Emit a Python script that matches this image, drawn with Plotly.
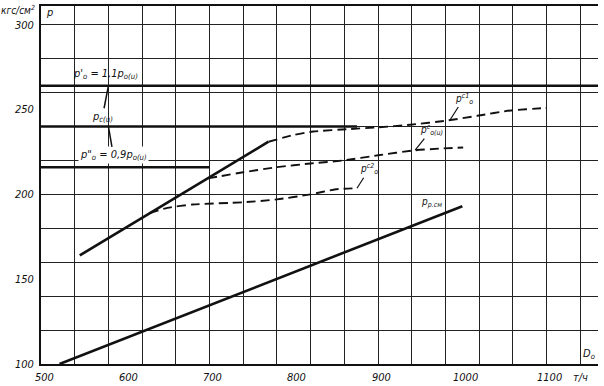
import plotly.graph_objects as go

# ---- data ----
x_tick_vals = [500, 600, 700, 800, 900, 1000, 1100]
x_tick_text = ["500", "600", "700", "800", "900", "1000", "1100"]
y_tick_vals = [100, 150, 200, 250, 300]
y_tick_text = ["100", "150", "200", "250", "300"]

# horizontal reference levels
p0_prime_x = [500, 1161]
p0_prime_y = [264, 264]
pcu_x = [500, 875]
pcu_y = [240, 240]
p0_dprime_x = [500, 700]
p0_dprime_y = [216, 216]

# solid rising curve
pc_x = [546, 620, 700, 770]
pc_y = [164, 186, 210, 231]

# dashed branches
pc1_x = [770, 800, 823, 867, 900, 938, 982, 1018, 1057, 1096, 1100]
pc1_y = [231, 235, 237, 238.5, 239.5, 241, 243.5, 246.3, 249.4, 250.8, 250.9]

pcu_branch_x = [698, 740, 780, 820, 859, 900, 943, 975, 1001]
pcu_branch_y = [209.4, 213, 216, 218.2, 220, 223, 225.9, 227, 227.6]

pc2_x = [629, 650, 680, 740, 780, 820, 850, 875]
pc2_y = [189, 192, 194, 195.3, 197, 200, 203, 203.6]

# p_p.cm line
ppcm_x = [522, 1000]
ppcm_y = [100, 193]

FONT = "DejaVu Sans Condensed, Liberation Sans Narrow, DejaVu Sans, sans-serif"
INK = "#111111"

fig = go.Figure()

def solid(x, y, w=2.6):
    fig.add_trace(go.Scatter(x=x, y=y, mode="lines",
                             line=dict(color=INK, width=w),
                             showlegend=False, hoverinfo="skip"))

def dashed(x, y, w=1.9):
    fig.add_trace(go.Scatter(x=x, y=y, mode="lines",
                             line=dict(color=INK, width=w, dash="9px,5px", shape="spline", smoothing=0.6),
                             showlegend=False, hoverinfo="skip"))

solid(p0_prime_x, p0_prime_y)
solid(pcu_x, pcu_y)
solid(p0_dprime_x, p0_dprime_y)
solid(pc_x, pc_y)
solid(ppcm_x, ppcm_y)
dashed(pc1_x, pc1_y)
dashed(pcu_branch_x, pcu_branch_y)
dashed(pc2_x, pc2_y)

# dummy trace for grid overlay axes
fig.add_trace(go.Scatter(x=[None], y=[None], xaxis="x2", yaxis="y2",
                         showlegend=False, hoverinfo="skip"))

XR = [500, 1161]
YR = [100, 311]

fig.update_layout(
    width=604, height=386,
    margin=dict(l=41, r=6, t=6, b=22),
    paper_bgcolor="white", plot_bgcolor="white",
    font=dict(family=FONT, color=INK, size=11),
    xaxis=dict(range=XR, tickvals=x_tick_vals, showticklabels=False,
               showgrid=False, zeroline=False, showline=True, linecolor=INK,
               linewidth=2, ticks=""),
    yaxis=dict(range=YR, tickvals=y_tick_vals, ticktext=y_tick_text,
               showgrid=False, zeroline=False, showline=True, linecolor=INK,
               linewidth=2, ticks="", ticklabelstandoff=3,
               tickfont=dict(family=FONT, size=11, style="italic")),
    xaxis2=dict(range=XR, overlaying="x", side="top", tick0=500, dtick=40,
                showgrid=True, gridcolor="#222222", gridwidth=1.1,
                showticklabels=False, ticks="", zeroline=False,
                showline=True, linecolor=INK, linewidth=1.5),
    yaxis2=dict(range=YR, overlaying="y", side="right", tick0=100, dtick=20,
                showgrid=True, gridcolor="#222222", gridwidth=1.1,
                showticklabels=False, ticks="", zeroline=False, showline=False),
)

W, H = 604 - 41 - 6, 386 - 6 - 22

def px_to_paper(px, py):
    return (px - 41) / W, (364 - py) / H

# x tick labels
_, ly = px_to_paper(0, 377)
for v, t in zip(x_tick_vals, x_tick_text):
    fig.add_annotation(text=t, x=v, y=ly, xref="x", yref="paper", showarrow=False,
                       xanchor="center", yanchor="middle", xshift=3,
                       font=dict(family=FONT, size=11, color=INK, style="italic"))

def label(text, x, y, size=11, **kw):
    fig.add_annotation(text=text, x=x, y=y, xref="x", yref="y",
                       showarrow=False, font=dict(family=FONT, size=size, color=INK, style="italic"),
                       **kw)

# level labels
label("p'<sub>o</sub> = 1,1p<sub>o(u)</sub>", 576, 271)
fig.add_annotation(text="p<sub>c(u)</sub>", x=580, y=264, xref="x", yref="y",
                   showarrow=True, arrowhead=0, arrowwidth=1.5, arrowcolor=INK,
                   ax=-6, ay=31, font=dict(family=FONT, size=11, color=INK, style="italic"))
fig.add_annotation(text="p\"<sub>o</sub> = 0,9p<sub>o(u)</sub>", x=580, y=240, xref="x", yref="y",
                   showarrow=True, arrowhead=0, arrowwidth=1.5, arrowcolor=INK,
                   ax=5, ay=29, bgcolor="white",
                   font=dict(family=FONT, size=11, color=INK, style="italic"))

def leader(text, x, y, ax, ay):
    fig.add_annotation(text=text, x=x, y=y, xref="x", yref="y",
                       showarrow=True, arrowhead=0, arrowwidth=1.2, arrowcolor=INK,
                       ax=ax, ay=ay, font=dict(family=FONT, size=10, color=INK, style="italic"))

leader("p<sup>c1</sup><sub>o</sub>", 985, 243.5, 14, -22)
leader("p<sup>c</sup><sub>o(u)</sub>", 944, 226, 16, -20)
leader("p<sup>c2</sup><sub>o</sub>", 875, 203.6, 12, -19)
label("p<sub>р.см</sub>", 963, 195, size=10)

# axis captions
cx, cy = px_to_paper(37, 10)
fig.add_annotation(text="кгс/см<sup>2</sup>", x=cx, y=cy, xref="paper", yref="paper",
                   xanchor="right", yanchor="middle", showarrow=False,
                   font=dict(family=FONT, size=10, color=INK, style="italic"))
fig.add_annotation(text="p", x=504, y=307, xref="x", yref="y", showarrow=False,
                   xanchor="left", font=dict(family=FONT, size=11, color=INK, style="italic"))
fig.add_annotation(text="D<sub>o</sub>", x=1150, y=106, xref="x", yref="y", showarrow=False,
                   font=dict(family=FONT, size=11, color=INK, style="italic"))
tx, ty = px_to_paper(580, 377)
fig.add_annotation(text="т/ч", x=tx, y=ty, xref="paper", yref="paper", showarrow=False,
                   xanchor="center", yanchor="middle",
                   font=dict(family=FONT, size=11, color=INK, style="italic"))

fig.write_html("out.html")
